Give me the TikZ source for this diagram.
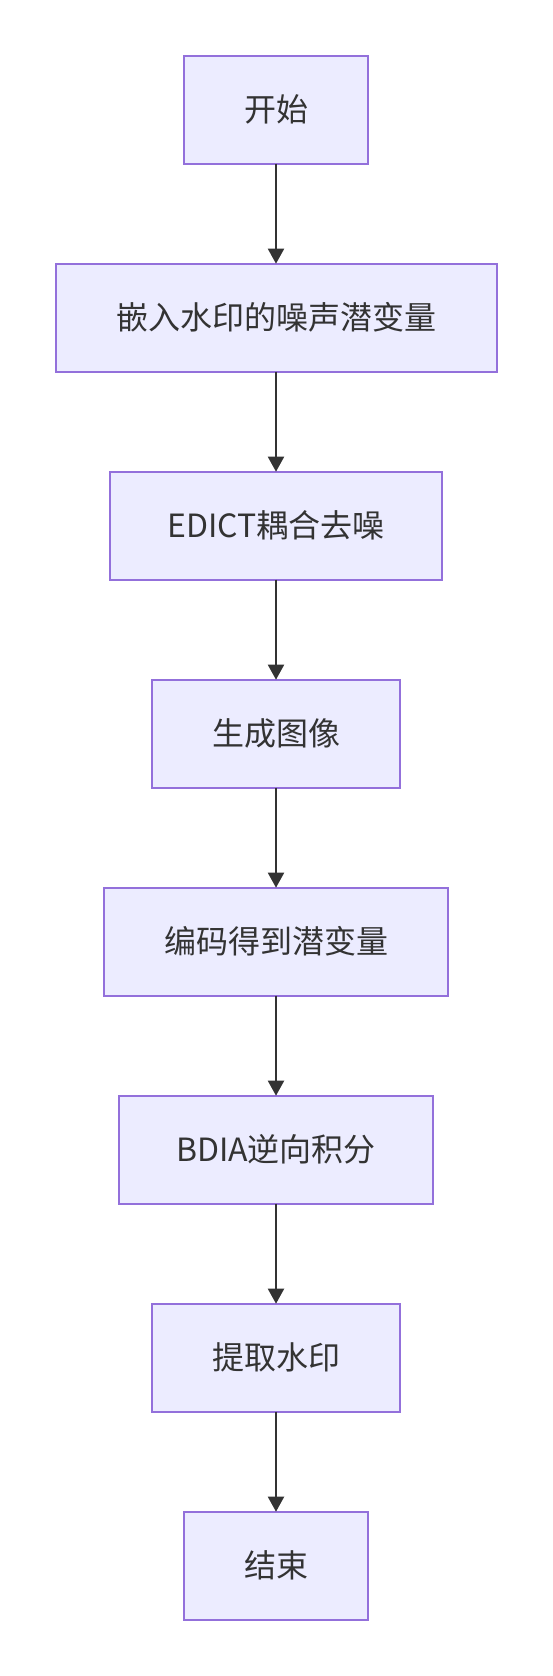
\documentclass[tikz,border=0pt]{standalone}
\usepackage{fontspec}
\setmainfont{Noto Sans CJK SC}
\usetikzlibrary{arrows.meta, positioning}
\definecolor{boxfill}{HTML}{ECECFF}
\definecolor{boxline}{HTML}{9370DB}
\definecolor{inkgray}{HTML}{333333}

\begin{document}
\begin{tikzpicture}[x=1pt, y=1pt, node distance=100pt,
    stepbox/.style={draw=boxline, fill=boxfill, line width=2pt, minimum height=108pt,
      inner sep=0pt, outer sep=0pt, text=inkgray, font=\fontsize{32}{38}\selectfont},
    flow/.style={-{Triangle[length=15pt, width=16pt]}, line width=2pt, draw=inkgray}]
  \useasboundingbox (0,0) rectangle (552,-1676);
  % Start box
  \node[stepbox, minimum width=184pt] (start) at (276,-109.7) {开始};
  % Embedding the watermark
  \node[stepbox, minimum width=441pt, below=of start] (embed) {嵌入水印的噪声潜变量};
  % Coupled denoising
  \node[stepbox, minimum width=332pt, below=of embed] (edict) {EDICT耦合去噪};
  % Image generation
  \node[stepbox, minimum width=248pt, below=of edict] (image) {生成图像};
  % Encoding
  \node[stepbox, minimum width=344pt, below=of image] (encode) {编码得到潜变量};
  % Reverse integration
  \node[stepbox, minimum width=314pt, below=of encode] (bdia) {BDIA逆向积分};
  % Extraction
  \node[stepbox, minimum width=248pt, below=of bdia] (extract) {提取水印};
  % End box
  \node[stepbox, minimum width=184pt, below=of extract] (finish) {结束};
  % Arrows
  \draw[flow] (start) -- (embed);
  \draw[flow] (embed) -- (edict);
  \draw[flow] (edict) -- (image);
  \draw[flow] (image) -- (encode);
  \draw[flow] (encode) -- (bdia);
  \draw[flow] (bdia) -- (extract);
  \draw[flow] (extract) -- (finish);
\end{tikzpicture}
\end{document}
